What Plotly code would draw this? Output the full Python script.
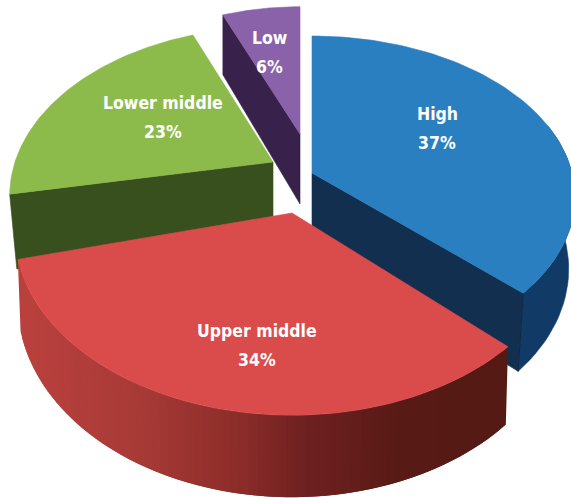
import numpy as np
import plotly.graph_objects as go

# ---- data ----
categories = ["High", "Upper middle", "Lower middle", "Low"]
shares = [37, 34, 23, 6]

# ---- drawing style / projection of the exploded 3-D pie ----
W, H = 571, 498
GEOM = {  # apex position, radii, perspective, depth (base + slope), bottom shrink, start-angle skew
    "High":         dict(cx=312, cy=173, rx=260, ry=157.5, k=.15, d0=70, d1=12, sh=.976, da0=0),
    "Upper middle": dict(cx=292, cy=213, rx=276, ry=182, k=.10, d0=69, d1=13, sh=.99, da0=0),
    "Lower middle": dict(cx=273, cy=162, rx=258, ry=162, k=.20, d0=73, d1=10, sh=.973, da0=3.4),
    "Low":          dict(cx=300, cy=134, rx=229, ry=140, k=.10, d0=70, d1=11, sh=1.0, da0=0),
}
TOP = {"High": "#2a7fc1", "Upper middle": "#da4c4c", "Lower middle": "#8cbb4c", "Low": "#8a62a9"}
CUT = {"High": "#122f50", "Lower middle": "#37501d", "Low": "#38224c"}
LABEL_XY = {"High": (437, 128.5), "Upper middle": (257, 345), "Lower middle": (163, 117), "Low": (269, 52.5)}
LINE_GAP = 14.5
FONT = "DejaVu Sans Condensed, Liberation Sans"
DRAW_ORDER = ["Low", "Lower middle", "High", "Upper middle"]
RED_RAMP = [(18, "#bb413e"), (130, "#a93b37"), (235, "#8c2d2a"), (300, "#6f2121"), (400, "#581a15"), (510, "#551a14")]


def top_pt(g, a):
    X, Y = np.sin(a), -np.cos(a)
    s = 1 / (1 - g["k"] * Y)
    return g["cx"] + g["rx"] * X * s, g["cy"] + g["ry"] * Y * s


def bot_pt(g, a):
    X, Y = np.sin(a), -np.cos(a)
    s = 1 / (1 - g["k"] * Y)
    return (g["cx"] + g["rx"] * X * s * g["sh"],
            g["cy"] + g["ry"] * Y * s + g["d0"] + g["d1"] * Y)


def hex_rgb(c):
    return np.array([int(c[i:i + 2], 16) for i in (1, 3, 5)], float)


def ramp(x):
    xs = [p[0] for p in RED_RAMP]
    cs = np.array([hex_rgb(p[1]) for p in RED_RAMP])
    return "rgb(%d,%d,%d)" % tuple(np.interp(x, xs, cs[:, i]) for i in range(3))


def poly(xs, ys, color, name, lw=0.6):
    return go.Scatter(x=list(xs), y=list(ys), mode="lines", fill="toself", fillcolor=color,
                      line=dict(color=color, width=lw), hoverinfo="skip", name=name, showlegend=False)


fig = go.Figure()
edges = np.cumsum([0] + shares) / sum(shares) * 2 * np.pi
span = {c: (edges[i] + np.radians(GEOM[c]["da0"]), edges[i + 1]) for i, c in enumerate(categories)}

for cat in DRAW_ORDER:
    g = GEOM[cat]
    a0, a1 = span[cat]
    # radial cut face
    if cat in CUT:
        a = a1 if cat == "High" else a0
        px, py = top_pt(g, a)
        bx, by = bot_pt(g, a)
        ax, ay = g["cx"], g["cy"]
        fig.add_trace(poly([ax, px, bx, ax, ax], [ay, py, by, ay + g["d0"], ay], CUT[cat], cat))
    # visible outer wall
    if cat == "High":
        t = np.linspace(np.pi / 2 * 0.8, a1, 30)
        xt, yt = top_pt(g, t)
        xb, yb = bot_pt(g, t)
        fig.add_trace(poly(np.r_[xt, xb[::-1]], np.r_[yt, yb[::-1]], "#123a66", cat))
        px, py = top_pt(g, a1)
        bx, by = bot_pt(g, a1)
        fig.add_trace(go.Scatter(x=[px, bx], y=[py, by], mode="lines",
                                 line=dict(color="#0e2743", width=1), hoverinfo="skip", showlegend=False))
    if cat == "Upper middle":
        # each strip overlaps the next one so no seams show
        t = np.linspace(a0, a1, 70)
        for i in range(len(t) - 2):
            seg = np.linspace(t[i], t[i + 2], 3)
            xt, yt = top_pt(g, seg)
            xb, yb = bot_pt(g, seg)
            fig.add_trace(poly(np.r_[xt, xb[::-1]], np.r_[yt, yb[::-1]], ramp(xt.mean()), cat, lw=0))
    # top face
    t = np.linspace(a0, a1, 90)
    xt, yt = top_pt(g, t)
    fig.add_trace(poly(np.r_[g["cx"], xt, g["cx"]], np.r_[g["cy"], yt, g["cy"]], TOP[cat], cat))

for cat, val in zip(categories, shares):
    x, y = LABEL_XY[cat]
    for txt, yy in ((cat, y - LINE_GAP), (f"{val}%", y + LINE_GAP)):
        fig.add_annotation(x=x, y=yy, xref="x", yref="y", showarrow=False, text=txt,
                           font=dict(family=FONT, size=17.5, color="white", weight="bold"))

fig.update_layout(width=W, height=H, margin=dict(l=0, r=0, t=0, b=0),
                  paper_bgcolor="white", plot_bgcolor="white", showlegend=False,
                  xaxis=dict(range=[0, W], visible=False, fixedrange=True),
                  yaxis=dict(range=[H, 0], visible=False, fixedrange=True))
fig.write_html("out.html", config={"displayModeBar": False},
               post_script="document.body.style.margin='0';document.documentElement.style.overflow='hidden';")
